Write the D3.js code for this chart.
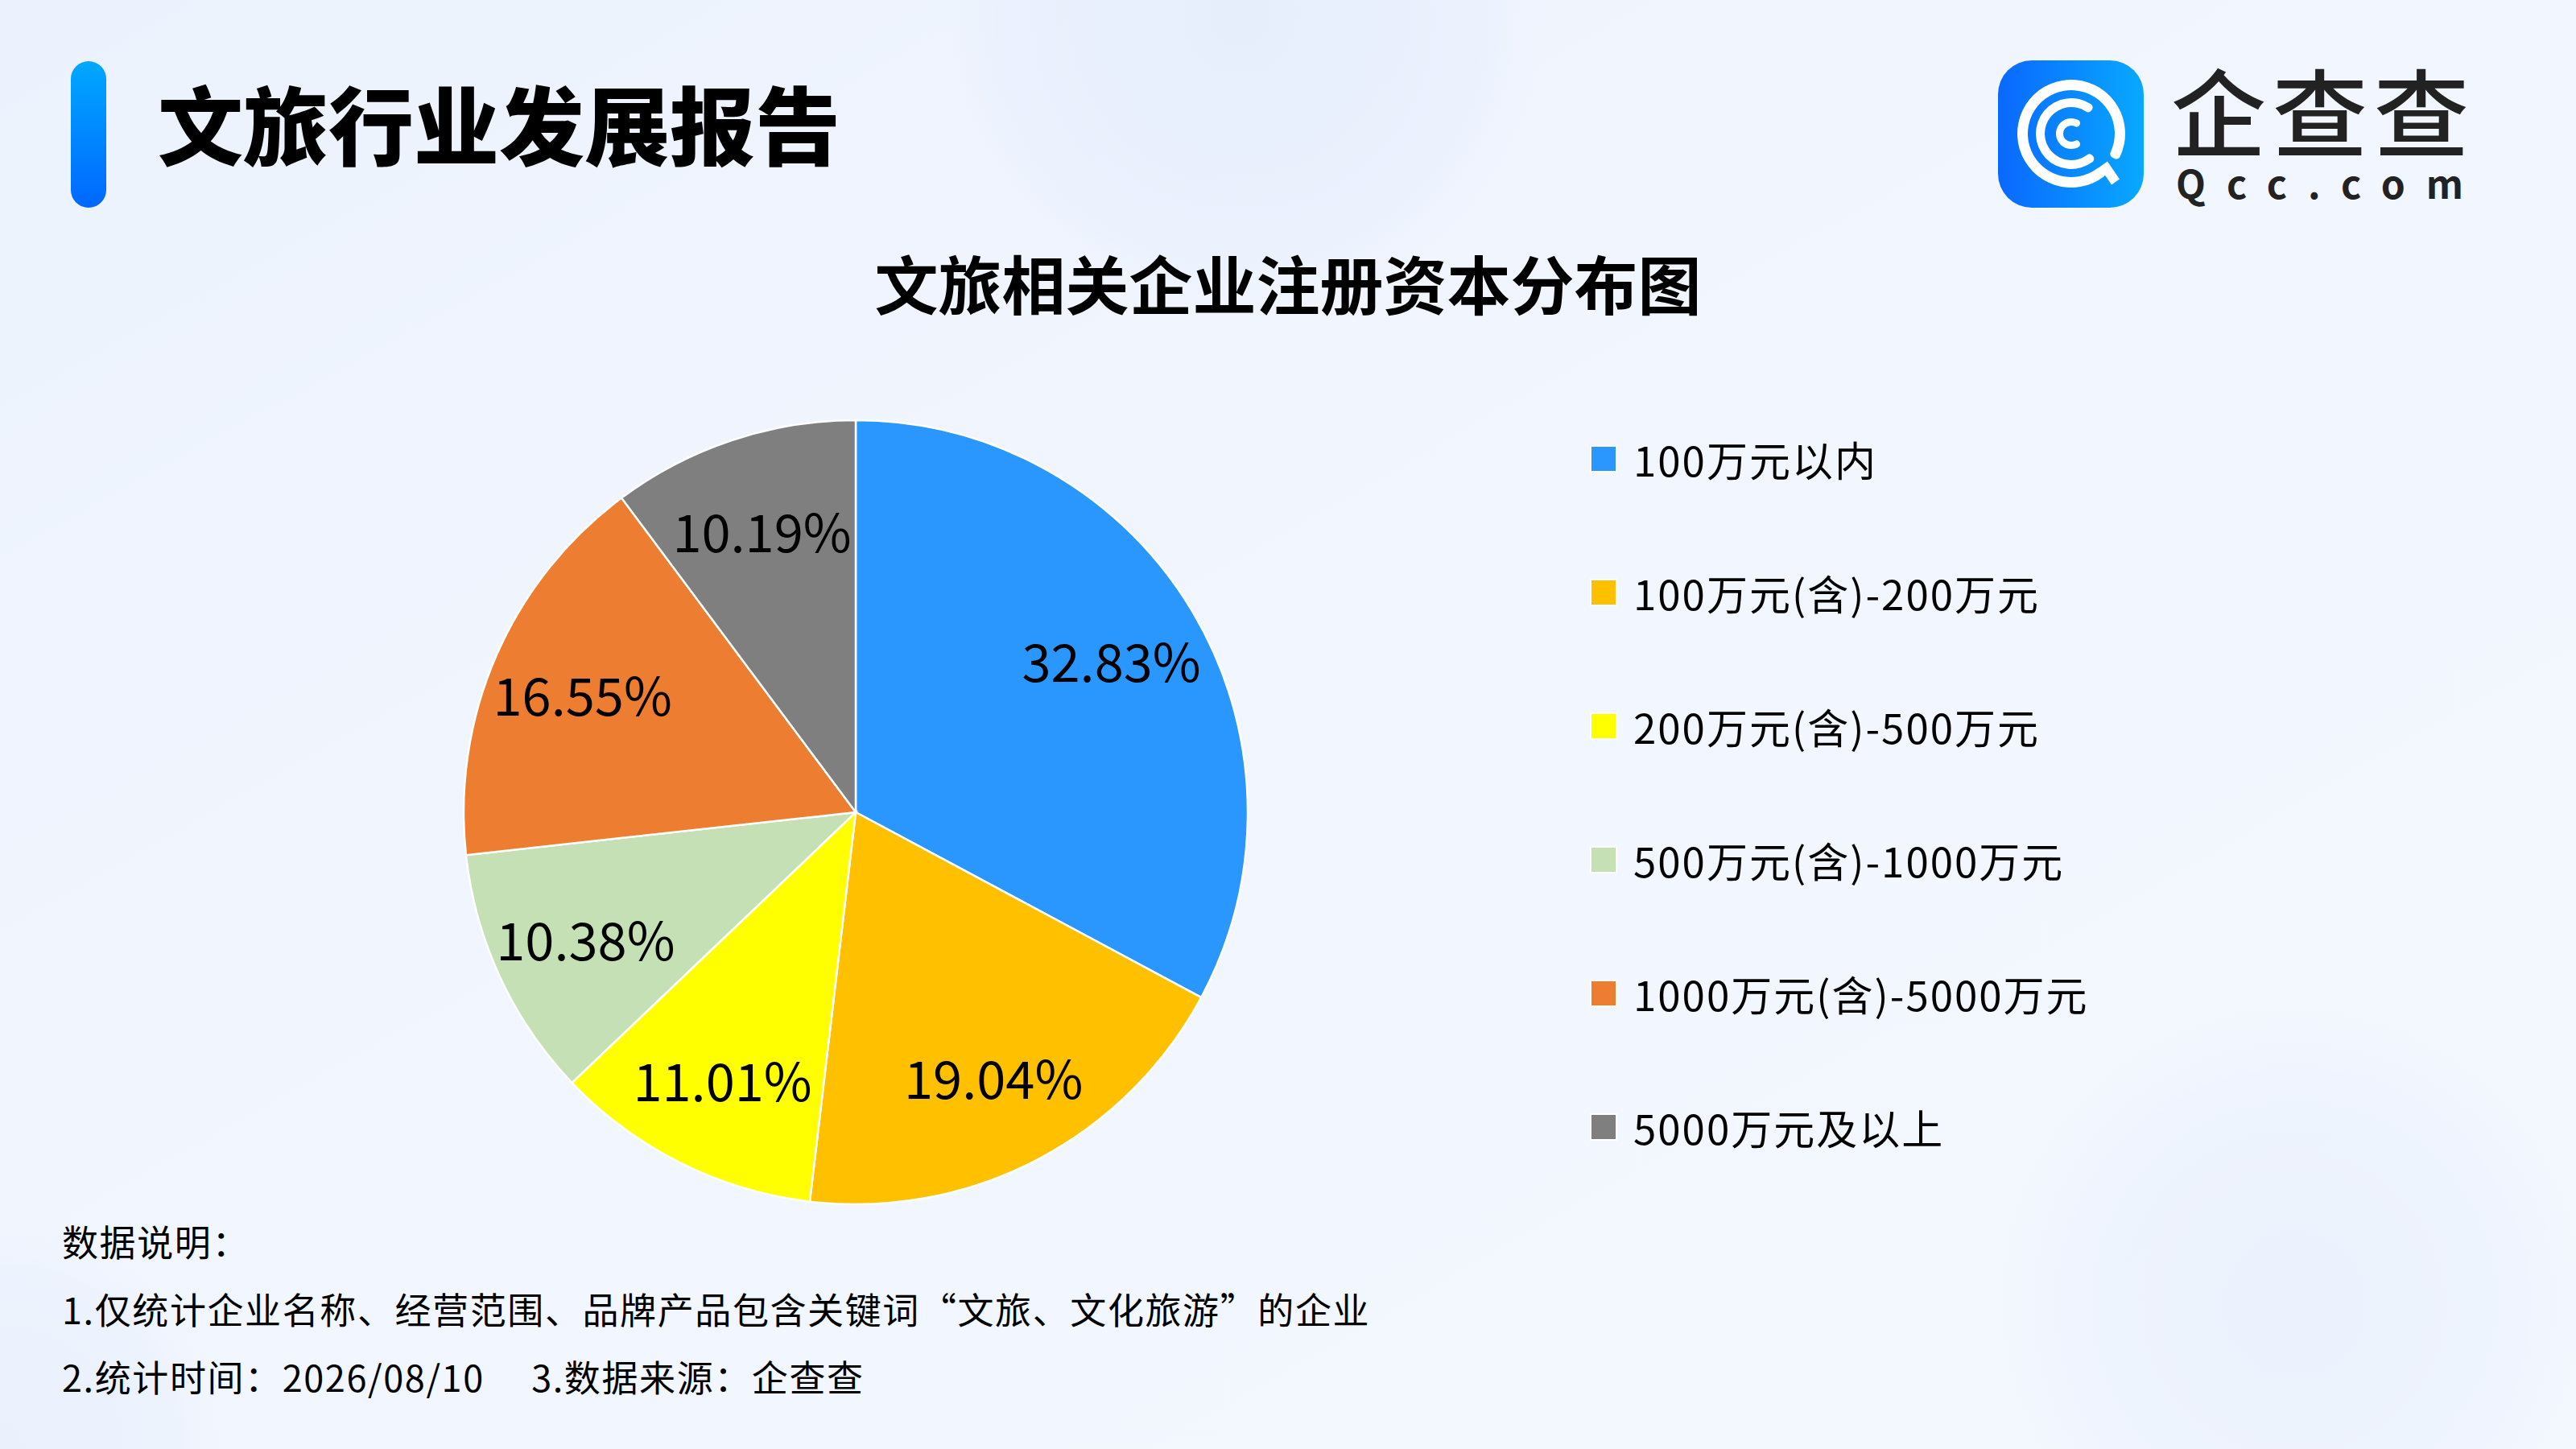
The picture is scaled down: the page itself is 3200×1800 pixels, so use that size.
<!DOCTYPE html>
<html>
<head>
<meta charset="utf-8">
<script src="https://cdn.jsdelivr.net/npm/d3@7"></script>
<style>
  body { margin: 0; background: #f0f4fd; }
  svg { display: block; }
  text { font-family: "Noto Sans CJK SC", "Noto Sans", sans-serif; }
</style>
</head>
<body>
<div id="chart"></div>
<script>
// data
const categories = ["100万元以内", "100万元(含)-200万元", "200万元(含)-500万元",
                    "500万元(含)-1000万元", "1000万元(含)-5000万元", "5000万元及以上"];
const shares = [32.83, 19.04, 11.01, 10.38, 16.55, 10.19];
const reportTitle = "文旅行业发展报告";
const chartTitle = "文旅相关企业注册资本分布图";
const notes = ["数据说明：",
               "1.仅统计企业名称、经营范围、品牌产品包含关键词“文旅、文化旅游”的企业",
               "2.统计时间：2026/08/10\u00a0\u00a0\u00a0\u00a0\u00a03.数据来源：企查查"];

const W = 3200, H = 1800;

const svg = d3.select("#chart").append("svg")
    .attr("width", W)
    .attr("height", H);

const defs = svg.append("defs");

function drawBackground() {
    const bg = defs.append("linearGradient").attr("id", "bg")
        .attr("x1", "0").attr("y1", "0").attr("x2", "1").attr("y2", "1");
    bg.append("stop").attr("offset", "0").attr("stop-color", "#ecf2fd");
    bg.append("stop").attr("offset", "0.5").attr("stop-color", "#f2f6fe");
    bg.append("stop").attr("offset", "1").attr("stop-color", "#f3f7fe");

    const blob = defs.append("radialGradient").attr("id", "blob");
    blob.append("stop").attr("offset", "0").attr("stop-color", "#e6eefc").attr("stop-opacity", 1);
    blob.append("stop").attr("offset", "0.75").attr("stop-color", "#e9f0fd").attr("stop-opacity", 0.7);
    blob.append("stop").attr("offset", "1").attr("stop-color", "#f1f5fe").attr("stop-opacity", 0);

    svg.append("rect").attr("width", W).attr("height", H).attr("fill", "url(#bg)");
    svg.append("circle").attr("cx", 1540).attr("cy", 20).attr("r", 400).attr("fill", "url(#blob)");
    svg.append("circle").attr("cx", 2850).attr("cy", 1620).attr("r", 380).attr("fill", "url(#blob)").attr("opacity", 0.6);
    svg.append("circle").attr("cx", 0).attr("cy", 1800).attr("r", 300).attr("fill", "url(#blob)").attr("opacity", 0.7);
}

function drawHeader() {
    const barGrad = defs.append("linearGradient").attr("id", "bar")
        .attr("x1", "0").attr("y1", "0").attr("x2", "0").attr("y2", "1");
    barGrad.append("stop").attr("offset", "0").attr("stop-color", "#00a8ff");
    barGrad.append("stop").attr("offset", "1").attr("stop-color", "#0067ff");

    svg.append("rect")
        .attr("x", 88).attr("y", 76)
        .attr("width", 44).attr("height", 182)
        .attr("rx", 22)
        .attr("fill", "url(#bar)");

    svg.append("text")
        .attr("x", 196).attr("y", 197)
        .attr("font-size", 106)
        .attr("font-weight", 900)
        .attr("fill", "#000")
        .text(reportTitle);

    // logo
    const iconGrad = defs.append("linearGradient").attr("id", "icon")
        .attr("x1", "0").attr("y1", "0").attr("x2", "1").attr("y2", "0");
    iconGrad.append("stop").attr("offset", "0").attr("stop-color", "#0a68ff");
    iconGrad.append("stop").attr("offset", "1").attr("stop-color", "#08a9ff");

    const logo = svg.append("g");
    logo.append("rect")
        .attr("x", 2482).attr("y", 75)
        .attr("width", 181).attr("height", 183)
        .attr("rx", 42)
        .attr("fill", "url(#icon)");

    const deg = Math.PI / 180;
    const rings = [
        { r0: 54, r1: 67, a0: 138, a1: 480 },
        { r0: 33, r1: 44, a0: 136, a1: 401 },
        { r0: 10, r1: 19, a0: 135, a1: 405 }
    ];
    const ringArc = d3.arc()
        .innerRadius(d => d.r0)
        .outerRadius(d => d.r1)
        .startAngle(d => d.a0 * deg)
        .endAngle(d => d.a1 * deg)
        .cornerRadius(5);
    const icon = logo.append("g").attr("transform", "translate(2573,166)");
    icon.selectAll("path")
        .data(rings)
        .join("path")
        .attr("d", ringArc)
        .attr("fill", "#fff");
    icon.append("line")
        .attr("x1", 40).attr("y1", 38)
        .attr("x2", 55).attr("y2", 60)
        .attr("stroke", "#fff")
        .attr("stroke-width", 12);

    logo.append("text")
        .attr("x", 2697).attr("y", 186)
        .attr("font-size", 118)
        .attr("font-weight", 500)
        .attr("fill", "#222")
        .attr("textLength", 370)
        .attr("lengthAdjust", "spacing")
        .text("企查查");
    logo.append("text")
        .attr("x", 2703).attr("y", 247)
        .attr("font-size", 48)
        .attr("font-weight", 700)
        .attr("fill", "#222")
        .attr("textLength", 357)
        .attr("lengthAdjust", "spacing")
        .text("Qcc.com");
}

function drawPieChart() {
    const cx = 1063, cy = 1009, radius = 487;

    svg.append("text")
        .attr("x", W / 2).attr("y", 385)
        .attr("text-anchor", "middle")
        .attr("font-size", 79)
        .attr("font-weight", 700)
        .attr("fill", "#000")
        .text(chartTitle);

    const color = d3.scaleOrdinal()
        .domain(categories)
        .range(["#2997fe", "#ffc000", "#ffff00", "#c5e0b4", "#ed7d31", "#7f7f7f"]);

    const pie = d3.pie()
        .sort(null)
        .value(d => d.value);
    const data_ready = pie(categories.map((c, i) => ({ name: c, value: shares[i] })));

    const arc = d3.arc()
        .innerRadius(0)
        .outerRadius(radius);
    const labelArc = d3.arc()
        .innerRadius(radius * 0.76)
        .outerRadius(radius * 0.76);

    const g = svg.append("g")
        .attr("transform", `translate(${cx},${cy})`);

    g.selectAll("path")
        .data(data_ready)
        .join("path")
        .attr("d", arc)
        .attr("fill", d => color(d.data.name))
        .attr("stroke", "#fff")
        .attr("stroke-width", 2.5);

    g.selectAll("text")
        .data(data_ready)
        .join("text")
        .attr("transform", d => `translate(${labelArc.centroid(d)})`)
        .attr("text-anchor", "middle")
        .attr("dominant-baseline", "central")
        .attr("font-size", 65)
        .attr("fill", "#000")
        .text(d => d.data.value.toFixed(2) + "%");

    // legend
    const y = d3.scalePoint()
        .domain(categories)
        .range([570, 1400]);

    const legend = svg.append("g")
        .selectAll("g")
        .data(categories)
        .join("g")
        .attr("transform", d => `translate(1976,${y(d)})`);

    legend.append("rect")
        .attr("x", 0).attr("y", -16)
        .attr("width", 32).attr("height", 32)
        .attr("fill", d => color(d))
        .attr("stroke", "#fff")
        .attr("stroke-width", 2);

    legend.append("text")
        .attr("x", 53)
        .attr("dominant-baseline", "central")
        .attr("font-size", 51)
        .attr("letter-spacing", 2)
        .attr("fill", "#000")
        .text(d => d);
}

function drawNotes() {
    svg.append("g")
        .selectAll("text")
        .data(notes)
        .join("text")
        .attr("x", 77)
        .attr("y", (d, i) => 1561 + i * 84)
        .attr("font-size", 45)
        .attr("letter-spacing", 1.6)
        .attr("fill", "#000")
        .text(d => d);
}

drawBackground();
drawHeader();
drawPieChart();
drawNotes();
</script>
</body>
</html>
